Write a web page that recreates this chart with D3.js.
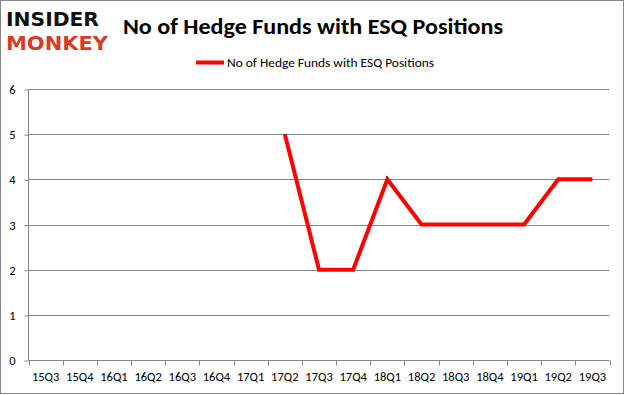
<!DOCTYPE html>
<html><head><meta charset="utf-8">
<script src="https://cdn.jsdelivr.net/npm/d3@7"></script>
<style>body{margin:0;background:#fff}svg{display:block}</style>
</head><body>
<script>
const categories = ["15Q3","15Q4","16Q1","16Q2","16Q3","16Q4","17Q1","17Q2","17Q3","17Q4","18Q1","18Q2","18Q3","18Q4","19Q1","19Q2","19Q3"];
const values = [null,null,null,null,null,null,null,5,2,2,4,3,3,3,3,4,4];
const yTicks = [0,1,2,3,4,5,6];
const seriesName = "No of Hedge Funds with ESQ Positions";
const titleText = "No of Hedge Funds with ESQ Positions";

const W = 625, H = 395;
const svg = d3.select("body").append("svg").attr("width", W).attr("height", H);
svg.append("rect").attr("x",0.5).attr("y",0.5).attr("width",W-2).attr("height",H-2)
  .attr("fill","#fff").attr("stroke","#868686");

const x = d3.scaleBand().domain(categories).range([28.5, 609.5]);
const y = d3.scaleLinear().domain([0,6]).range([360, 89]);
const font = "Calibri, Carlito, 'Liberation Sans', sans-serif";

// gridlines
svg.append("g").selectAll("line").data(yTicks.filter(d=>d>0)).join("line")
  .attr("x1",28.5).attr("x2",609.5).attr("y1",d=>Math.round(y(d))+0.5).attr("y2",d=>Math.round(y(d))+0.5)
  .attr("stroke","#868686").attr("stroke-width",1);

// y axis
const yAxis = svg.append("g").attr("transform","translate(28.5,0.5)")
  .call(d3.axisLeft(y).tickValues(yTicks).tickSize(4).tickPadding(9).tickFormat(d3.format("d")));
yAxis.select(".domain").attr("stroke","#868686").attr("d","M0,89V360");
yAxis.selectAll(".tick line").attr("stroke","#868686");
yAxis.selectAll("text").attr("font-family",font).attr("font-size",12.5).attr("fill","#000");

// x axis
const xAxis = svg.append("g").attr("transform","translate(0,360.5)")
  .call(d3.axisBottom(x).tickSize(0).tickPadding(12));
xAxis.select(".domain").attr("stroke","#868686").attr("d","M28.5,0H609.5");
xAxis.selectAll("text").attr("font-family",font).attr("font-size",12.5).attr("fill","#000");
const bounds = [x.range()[0], ...categories.map(c => x(c) + x.bandwidth())];
svg.append("g").selectAll("line").data(bounds).join("line")
  .attr("x1",d=>Math.round(d)+0.5).attr("x2",d=>Math.round(d)+0.5).attr("y1",360.5).attr("y2",365.5)
  .attr("stroke","#868686");

// line
const line = d3.line().defined(d=>d.v!==null)
  .x(d=>x(d.c)+x.bandwidth()/2).y(d=>y(d.v));
svg.append("path").datum(categories.map((c,i)=>({c, v: values[i]})))
  .attr("d", line).attr("fill","none").attr("stroke","#ff0000").attr("stroke-width",4)
  .attr("stroke-linejoin","miter");

// title
svg.append("text").attr("x",313).attr("y",34).attr("text-anchor","middle")
  .attr("font-family",font).attr("font-weight","bold").attr("font-size",22)
  .attr("textLength",380).attr("lengthAdjust","spacingAndGlyphs")
  .text(titleText);

// legend
svg.append("line").attr("x1",196).attr("x2",224).attr("y1",62.5).attr("y2",62.5)
  .attr("stroke","#ff0000").attr("stroke-width",4);
svg.append("text").attr("x",227).attr("y",66.5).attr("font-family",font).attr("font-size",12)
  .attr("textLength",207).attr("lengthAdjust","spacingAndGlyphs").text(seriesName);

// logo
svg.append("text").attr("x",6).attr("y",26).attr("font-family","'DejaVu Sans', sans-serif")
  .attr("font-weight","bold").attr("font-size",20).attr("fill","#111")
  .attr("textLength",93).attr("lengthAdjust","spacingAndGlyphs").text("INSIDER");
svg.append("text").attr("x",6).attr("y",50).attr("font-family","'DejaVu Sans', sans-serif")
  .attr("font-weight","bold").attr("font-size",19).attr("fill","#d63b2a")
  .attr("textLength",102).attr("lengthAdjust","spacingAndGlyphs").text("MONKEY");
</script>
</body></html>
